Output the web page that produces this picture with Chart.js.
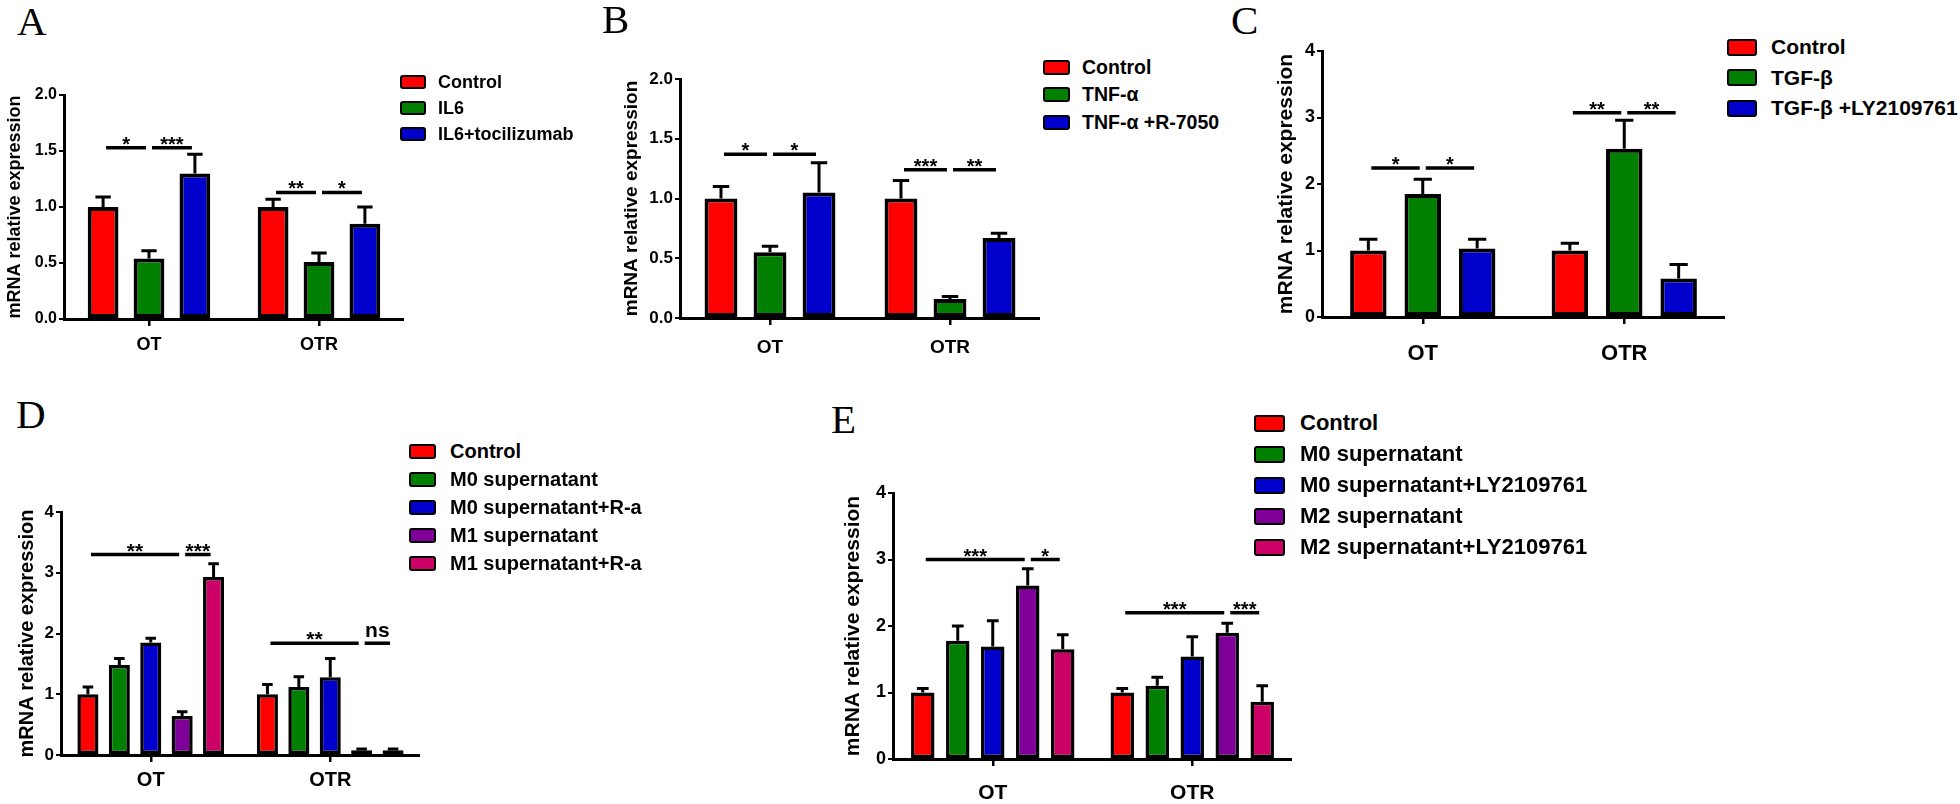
<!DOCTYPE html>
<html>
<head>
<meta charset="utf-8">
<script src="https://cdn.jsdelivr.net/npm/chart.js@4.4.1/dist/chart.umd.min.js"></script>
<style>
  html, body { margin: 0; padding: 0; background: #fff; width: 1960px; height: 804px; overflow: hidden; }
  canvas { position: absolute; }
  .letter { position: absolute; font-family: "Liberation Serif", "Times New Roman", serif; font-size: 41px; line-height: 41px; color: #000; }
  .row { position: absolute; display: flex; align-items: center; font-family: "Liberation Sans", Arial, sans-serif; font-weight: bold; color: #000; white-space: nowrap; }
  .sw { display: inline-block; box-sizing: border-box; border: 2.5px solid #000; border-radius: 3px; }
</style>
</head>
<body>
<script>
// categories shared by all panels
var groups = ['OT', 'OTR'];

// A: IL6
var labelsA = ['Control', 'IL6', 'IL6+tocilizumab'];
var meanA = [[1.0, 1.0], [0.54, 0.51], [1.30, 0.85]];
var semA = [[0.09, 0.07], [0.07, 0.08], [0.17, 0.15]];
var sigA = [[0, 0, 1, 1.53, '*'], [0, 1, 2, 1.53, '***'], [1, 0, 1, 1.13, '**'], [1, 1, 2, 1.13, '*']];

// B: TNF-a
var labelsB = ['Control', 'TNF-α', 'TNF-α +R-7050'];
var meanB = [[1.0, 1.0], [0.55, 0.16], [1.05, 0.67]];
var semB = [[0.10, 0.15], [0.05, 0.02], [0.25, 0.04]];
var sigB = [[0, 0, 1, 1.37, '*'], [0, 1, 2, 1.37, '*'], [1, 0, 1, 1.24, '***'], [1, 1, 2, 1.24, '**']];

// C: TGF-b
var labelsC = ['Control', 'TGF-β', 'TGF-β +LY2109761'];
var meanC = [[1.0, 1.0], [1.85, 2.53], [1.03, 0.58]];
var semC = [[0.17, 0.11], [0.22, 0.43], [0.14, 0.21]];
var sigC = [[0, 0, 1, 2.24, '*'], [0, 1, 2, 2.24, '*'], [1, 0, 1, 3.07, '**'], [1, 1, 2, 3.07, '**']];

// D: M1
var labelsD = ['Control', 'M0 supernatant', 'M0 supernatant+R-a', 'M1 supernatant', 'M1 supernatant+R-a'];
var meanD = [[1.0, 1.0], [1.48, 1.12], [1.85, 1.28], [0.64, 0.08], [2.93, 0.08]];
var semD = [[0.12, 0.16], [0.11, 0.17], [0.07, 0.31], [0.07, 0.02], [0.22, 0.02]];
var sigD = [[0, 0, 3, 3.30, '**'], [0, 3, 4, 3.30, '***'], [1, 0, 3, 1.84, '**'], [1, 3, 4, 1.84, 'ns']];

// E: M2
var labelsE = ['Control', 'M0 supernatant', 'M0 supernatant+LY2109761', 'M2 supernatant', 'M2 supernatant+LY2109761'];
var meanE = [[1.0, 1.0], [1.78, 1.10], [1.69, 1.54], [2.61, 1.90], [1.65, 0.86]];
var semE = [[0.06, 0.06], [0.22, 0.13], [0.39, 0.30], [0.25, 0.14], [0.22, 0.24]];
var sigE = [[0, 0, 3, 3.0, '***'], [0, 3, 4, 3.0, '*'], [1, 0, 3, 2.2, '***'], [1, 3, 4, 2.2, '***']];

var palette = ['#FF0000', '#007F00', '#0000CC', '#7F0099', '#CC0066'];
var FONT = '"Liberation Sans", Arial, sans-serif';

// error bars (upper only) and significance brackets
var extras = {
  id: 'extras',
  afterDatasetsDraw: function(chart, args, o) {
    var ctx = chart.ctx, ys = chart.scales.y;
    ctx.save();
    ctx.strokeStyle = '#000';
    ctx.fillStyle = '#000';
    ctx.lineWidth = o.lw;
    o.sem.forEach(function(errs, i) {
      var meta = chart.getDatasetMeta(i);
      errs.forEach(function(e, j) {
        var bar = meta.data[j];
        var v = chart.data.datasets[i].data[j];
        var top = ys.getPixelForValue(v + e);
        var half = bar.width * 0.25;
        ctx.beginPath();
        ctx.moveTo(bar.x, bar.y);
        ctx.lineTo(bar.x, top);
        ctx.moveTo(bar.x - half, top);
        ctx.lineTo(bar.x + half, top);
        ctx.stroke();
      });
    });
    ctx.lineWidth = o.sw;
    ctx.textAlign = 'center';
    ctx.textBaseline = 'alphabetic';
    ctx.font = 'bold ' + o.sf + 'px ' + FONT;
    o.sig.forEach(function(s) {
      var a = chart.getDatasetMeta(s[1]).data[s[0]];
      var b = chart.getDatasetMeta(s[2]).data[s[0]];
      var py = ys.getPixelForValue(s[3]);
      ctx.beginPath();
      ctx.moveTo(a.x + 3, py);
      ctx.lineTo(b.x - 3, py);
      ctx.stroke();
      var off = s[4] === 'ns' ? -6 : 3;
      ctx.fillText(s[4], (a.x + b.x) / 2, py + off);
    });
    ctx.restore();
  }
};

function addLetter(t, x, base) {
  var d = document.createElement('div');
  d.className = 'letter';
  d.textContent = t;
  d.style.left = x + 'px';
  d.style.top = (base - 34.5) + 'px';
  document.body.appendChild(d);
}

function addLegend(labels, lg) {
  labels.forEach(function(t, i) {
    var r = document.createElement('div');
    r.className = 'row';
    r.style.left = lg.x + 'px';
    r.style.top = (lg.y + i * lg.gap - 15) + 'px';
    r.style.height = '30px';
    r.style.fontSize = lg.fs + 'px';
    var sw = document.createElement('span');
    sw.className = 'sw';
    sw.style.width = lg.w + 'px';
    sw.style.height = lg.h + 'px';
    sw.style.background = palette[i];
    var tx = document.createElement('span');
    tx.textContent = t;
    tx.style.marginLeft = lg.tg + 'px';
    r.appendChild(sw);
    r.appendChild(tx);
    document.body.appendChild(r);
  });
}

function makePanel(p, labels, means, sems, sigs) {
  var cv = document.createElement('canvas');
  cv.width = p.w; cv.height = p.h;
  cv.style.left = p.left + 'px';
  cv.style.top = p.top + 'px';
  document.body.appendChild(cv);

  var datasets = labels.map(function(l, i) {
    return {
      label: l,
      data: means[i],
      backgroundColor: palette[i],
      borderColor: '#000',
      borderWidth: p.bw,
      borderSkipped: false,
      categoryPercentage: p.catPct,
      barPercentage: 0.67
    };
  });

  new Chart(cv, {
    type: 'bar',
    data: { labels: groups, datasets: datasets },
    plugins: [extras],
    options: {
      responsive: false,
      animation: false,
      devicePixelRatio: 1,
      layout: { padding: { top: p.pad, left: 0, right: 0, bottom: 0 } },
      plugins: {
        legend: { display: false },
        tooltip: { enabled: false },
        extras: { sem: sems, sig: sigs, lw: 3, sw: 3.5, sf: p.sf }
      },
      scales: {
        x: {
          grid: { display: true, drawOnChartArea: false, drawTicks: true, offset: false, tickLength: 7, color: '#000', lineWidth: 2.5 },
          border: { display: true, color: '#000', width: 3 },
          ticks: { color: '#000', padding: p.catPad, font: { family: FONT, weight: 'bold', size: p.catFont } },
          afterFit: function(s) { s.height = p.xh; s.paddingLeft = 0; s.paddingRight = 0; }
        },
        y: {
          min: 0, max: p.yMax,
          grid: { display: true, drawOnChartArea: false, drawTicks: true, tickLength: 5, color: '#000', lineWidth: 2 },
          border: { display: true, color: '#000', width: 3 },
          ticks: {
            stepSize: p.step, color: '#000', padding: 2,
            font: { family: FONT, weight: 'bold', size: p.tickFont },
            callback: function(v) { return v.toFixed(p.dec); }
          },
          title: {
            display: true, text: 'mRNA relative expression', color: '#000',
            padding: { top: 4, bottom: 0 },
            font: { family: FONT, weight: 'bold', size: p.titleFont, lineHeight: 1.2 }
          },
          afterFit: function(s) { s.width = p.yw; s.paddingTop = 0; s.paddingBottom = 0; }
        }
      }
    }
  });
}

makePanel({ left: 0, top: 60, w: 404, h: 304, yw: 64, pad: 35, xh: 45, yMax: 2, step: 0.5, dec: 1,
  tickFont: 16, titleFont: 18, catFont: 18, catPad: 8, bw: 4, catPct: 0.81, sf: 20 }, labelsA, meanA, semA, sigA);
makePanel({ left: 616, top: 40, w: 424, h: 323, yw: 64, pad: 39, xh: 45, yMax: 2, step: 0.5, dec: 1,
  tickFont: 17, titleFont: 19, catFont: 19, catPad: 11, bw: 4, catPct: 0.817, sf: 20 }, labelsB, meanB, semB, sigB);
makePanel({ left: 1270, top: 20, w: 455, h: 347, yw: 52, pad: 31, xh: 50, yMax: 4, step: 1, dec: 0,
  tickFont: 18, titleFont: 21, catFont: 22, catPad: 17, bw: 4, catPct: 0.81, sf: 20 }, labelsC, meanC, semC, sigC);
makePanel({ left: 11, top: 480, w: 409, h: 320, yw: 50, pad: 32, xh: 45, yMax: 4, step: 1, dec: 0,
  tickFont: 17, titleFont: 20, catFont: 20, catPad: 6, bw: 3.5, catPct: 0.875, sf: 21 }, labelsD, meanD, semD, sigD);
makePanel({ left: 837, top: 460, w: 455, h: 349, yw: 56, pad: 33, xh: 50, yMax: 4, step: 1, dec: 0,
  tickFont: 18, titleFont: 21, catFont: 21, catPad: 15, bw: 3.5, catPct: 0.877, sf: 20 }, labelsE, meanE, semE, sigE);

addLegend(labelsA, { x: 400, y: 82, gap: 26, fs: 18, w: 26, h: 14, tg: 12 });
addLegend(labelsB, { x: 1043, y: 67, gap: 27.5, fs: 19.5, w: 27, h: 15, tg: 12 });
addLegend(labelsC, { x: 1727, y: 47, gap: 30.5, fs: 21, w: 30, h: 17, tg: 14 });
addLegend(labelsD, { x: 409, y: 451, gap: 28, fs: 20, w: 27, h: 15, tg: 14 });
addLegend(labelsE, { x: 1254, y: 423, gap: 31, fs: 22, w: 31, h: 17, tg: 15 });

addLetter('A', 17, 35);
addLetter('B', 602, 33);
addLetter('C', 1231, 34);
addLetter('D', 16, 428);
addLetter('E', 831, 433);
</script>
</body>
</html>
